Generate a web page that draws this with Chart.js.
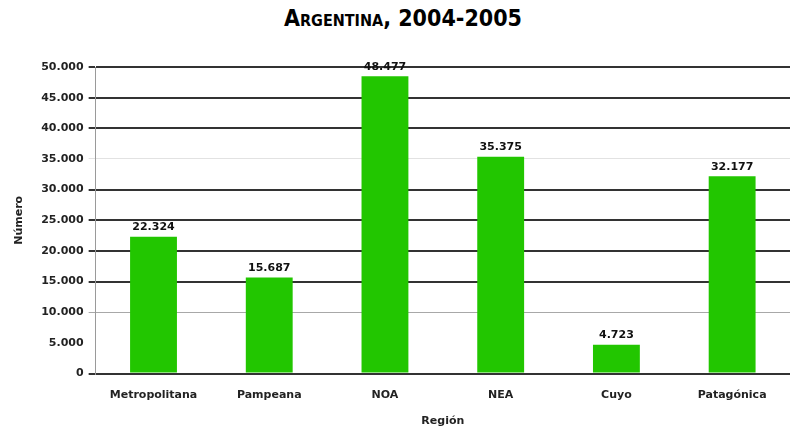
<!DOCTYPE html>
<html>
<head>
<meta charset="utf-8">
<script src="https://cdn.jsdelivr.net/npm/chart.js@4"></script>
<style>
  html, body { margin: 0; padding: 0; background: #fff; }
  #wrap { position: relative; width: 790px; height: 430px; }
  #title {
    position: absolute; top: 5px; left: 0; width: 806px;
    text-align: center; font: bold 23px "DejaVu Sans Condensed", "DejaVu Sans", sans-serif;
    font-variant: small-caps; color: #000;
  }
  canvas { position: absolute; top: 0; left: 0; }
</style>
</head>
<body>
<div id="wrap">
  <div id="title">Argentina, 2004-2005</div>
  <canvas id="chart" width="790" height="430"></canvas>
</div>
<script>
// Casos por región
const regiones = ['Metropolitana', 'Pampeana', 'NOA', 'NEA', 'Cuyo', 'Patagónica'];
const casos = [22324, 15687, 48477, 35375, 4723, 32177];
const yTicks = [0, 5000, 10000, 15000, 20000, 25000, 30000, 35000, 40000, 45000, 50000];

const FONT = "'DejaVu Sans', sans-serif";
const fmt = v => v.toLocaleString('de-DE');

// grid line look per tick value
function gridColor(v) {
  if (v === 5000) return 'rgba(0,0,0,0)';
  if (v === 10000) return '#a8a8a8';
  if (v === 35000) return '#e2e2e2';
  return '#333';
}
function gridWidth(v) {
  if (v === 10000 || v === 35000) return 1;
  return 2;
}

// value labels above each bar
const barLabels = {
  id: 'barLabels',
  afterDatasetsDraw(chart) {
    const ctx = chart.ctx;
    const meta = chart.getDatasetMeta(0);
    ctx.save();
    ctx.font = 'bold 11px ' + FONT;
    ctx.fillStyle = '#111';
    ctx.textAlign = 'center';
    ctx.textBaseline = 'bottom';
    meta.data.forEach((bar, i) => {
      ctx.fillText(fmt(casos[i]), bar.x, bar.y - 4);
    });
    ctx.restore();
  }
};

new Chart(document.getElementById('chart'), {
  type: 'bar',
  data: {
    labels: regiones,
    datasets: [{
      data: casos,
      backgroundColor: '#22c600',
      barPercentage: 0.405,
      categoryPercentage: 1
    }]
  },
  options: {
    responsive: false,
    animation: false,
    layout: { padding: { top: 67, left: 6, right: 0, bottom: 0 } },
    plugins: {
      legend: { display: false },
      tooltip: { enabled: false }
    },
    scales: {
      x: {
        grid: { display: false, drawTicks: false },
        border: { display: false },
        ticks: {
          color: '#222', padding: 15, maxRotation: 0, minRotation: 0, autoSkip: false,
          font: { family: FONT, size: 11, weight: 'bold' }
        },
        title: {
          display: true, text: 'Región', color: '#222',
          font: { family: FONT, size: 11, weight: 'bold' },
          padding: { top: -2, bottom: 2 }
        }
      },
      y: {
        min: 0,
        max: 50000,
        afterBuildTicks: axis => { axis.ticks = yTicks.map(v => ({ value: v })); },
        grid: {
          color: c => gridColor(c.tick.value),
          lineWidth: c => gridWidth(c.tick.value),
          tickLength: 7,
          drawTicks: true
        },
        border: { display: true, color: '#9a9a9a', width: 1 },
        ticks: {
          color: '#222', padding: 5,
          font: { family: FONT, size: 11, weight: 'bold' },
          callback: v => fmt(v)
        },
        title: {
          display: true, text: 'Número', color: '#222',
          font: { family: FONT, size: 11, weight: 'bold' },
          padding: { top: 7, bottom: 10 }
        }
      }
    }
  },
  plugins: [barLabels]
});
</script>
</body>
</html>
